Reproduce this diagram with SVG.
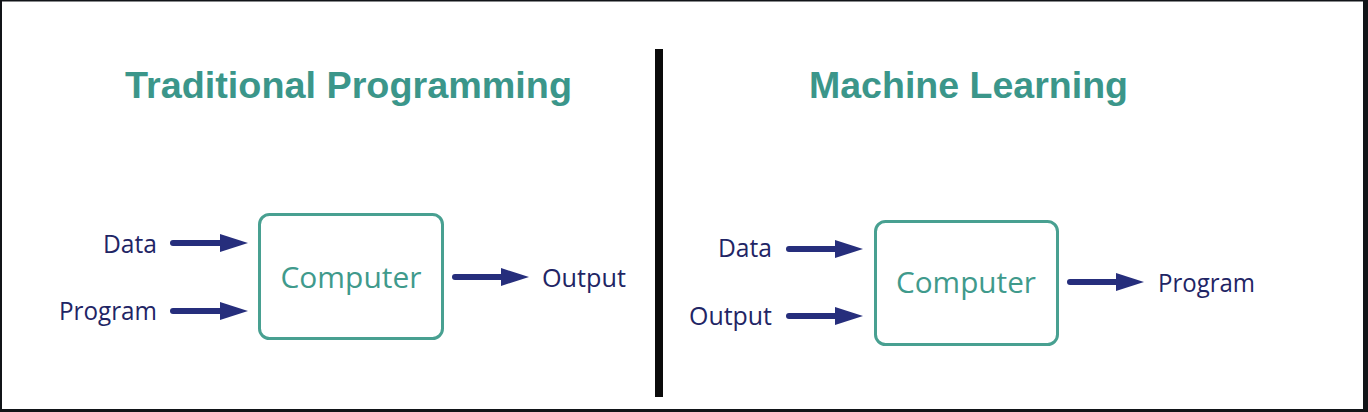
<svg xmlns="http://www.w3.org/2000/svg" width="1368" height="412" viewBox="0 0 1368 412">
  <style>
    .title { font-family: "Liberation Sans", Arial, sans-serif; font-weight: bold; font-size: 37px; fill: #3b968a; }
    .label { font-family: "Open Sans", "Noto Sans", sans-serif; font-size: 25px; fill: #1f2565; }
    .boxlabel { font-family: "Open Sans", "Noto Sans", sans-serif; font-size: 29px; fill: #3f9a8c; }
    .box { fill: none; stroke: #48a091; stroke-width: 3; }
    .shaft { stroke: #262e7c; stroke-width: 6; stroke-linecap: round; fill: none; }
    .head { fill: #262e7c; }
    .frame { fill: #111418; }
  </style>
  <rect x="0" y="0" width="1368" height="412" fill="#ffffff"/>
  <g id="frame">
    <rect class="frame" x="0" y="0" width="1368" height="1.5"/>
    <rect class="frame" x="0" y="0" width="2" height="412"/>
    <rect class="frame" x="1363" y="0" width="5" height="412"/>
    <rect class="frame" x="0" y="409" width="1368" height="3"/>
  </g>
  <g id="divider">
    <rect x="655" y="49" width="8" height="348" fill="#0b0b0b"/>
  </g>
  <g id="title-traditional">
    <text class="title" x="125" y="98" textLength="447" lengthAdjust="spacingAndGlyphs">Traditional Programming</text>
  </g>
  <g id="title-ml">
    <text class="title" x="809" y="98" textLength="319" lengthAdjust="spacingAndGlyphs">Machine Learning</text>
  </g>

  <g id="tp-computer">
    <rect class="box" x="259.5" y="214.5" width="183" height="124" rx="10" ry="10"/>
    <text class="boxlabel" x="351" y="288" text-anchor="middle" textLength="141" lengthAdjust="spacingAndGlyphs">Computer</text>
  </g>
  <g id="tp-data"><text class="label" x="157" y="253" text-anchor="end" textLength="54" lengthAdjust="spacingAndGlyphs">Data</text></g>
  <g id="tp-program"><text class="label" x="157" y="320" text-anchor="end" textLength="98" lengthAdjust="spacingAndGlyphs">Program</text></g>
  <g id="tp-output"><text class="label" x="542" y="287" textLength="84" lengthAdjust="spacingAndGlyphs">Output</text></g>

  <g id="ml-computer">
    <rect class="box" x="875.5" y="221.5" width="182" height="123" rx="10" ry="10"/>
    <text class="boxlabel" x="966" y="293" text-anchor="middle" textLength="140" lengthAdjust="spacingAndGlyphs">Computer</text>
  </g>
  <g id="ml-data"><text class="label" x="772" y="257" text-anchor="end" textLength="54" lengthAdjust="spacingAndGlyphs">Data</text></g>
  <g id="ml-output"><text class="label" x="772" y="325" text-anchor="end" textLength="83" lengthAdjust="spacingAndGlyphs">Output</text></g>
  <g id="ml-program"><text class="label" x="1158" y="292" textLength="97" lengthAdjust="spacingAndGlyphs">Program</text></g>

  <g id="connectors">
    <line class="shaft" x1="173" y1="243" x2="224" y2="243"/>
    <polygon class="head" points="220,234 248,243 220,252"/>
    <line class="shaft" x1="173" y1="311" x2="224" y2="311"/>
    <polygon class="head" points="220,302 248,311 220,320"/>
    <line class="shaft" x1="455" y1="277" x2="505" y2="277"/>
    <polygon class="head" points="501,268 529,277 501,286"/>

    <line class="shaft" x1="789" y1="249" x2="839" y2="249"/>
    <polygon class="head" points="835,240 863,249 835,258"/>
    <line class="shaft" x1="789" y1="316" x2="839" y2="316"/>
    <polygon class="head" points="835,307 863,316 835,325"/>
    <line class="shaft" x1="1070" y1="282" x2="1120" y2="282"/>
    <polygon class="head" points="1116,273 1144,282 1116,291"/>
  </g>
</svg>
